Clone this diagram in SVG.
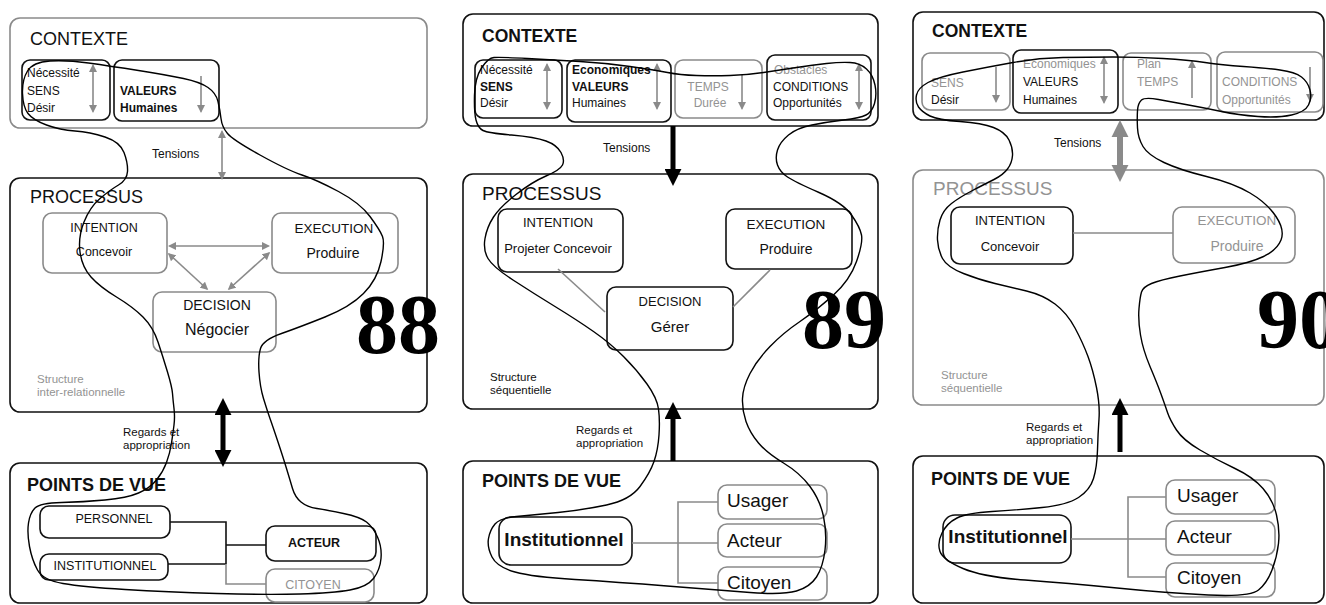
<svg xmlns="http://www.w3.org/2000/svg" width="1326" height="605" viewBox="0 0 1326 605">
<defs>
<style>
text{font-family:"Liberation Sans",Arial,sans-serif;fill:#111}
.bk{fill:#fff;stroke:#111;stroke-width:1.6}
.gy{fill:#fff;stroke:#8a8a8a;stroke-width:1.6}
.sb{fill:none;stroke:#111;stroke-width:1.6}
.sg{fill:none;stroke:#8a8a8a;stroke-width:1.6}
.loop{fill:none;stroke:#000;stroke-width:1.4;stroke-linejoin:round}
.ga{stroke:#8a8a8a;stroke-width:1.6;fill:none}
.gt{stroke:#8a8a8a;stroke-width:6;fill:none}
.ba{stroke:#000;stroke-width:5;fill:none}
.g{fill:#939393}
.b{font-weight:bold}
.m{text-anchor:middle}
.s11{font-size:11.5px}
.s12{font-size:12px}
.s13{font-size:13px}
.s14{font-size:14px}
.t18{font-size:18px}
.t19{font-size:19px}
.num{font-family:"Liberation Serif","Times New Roman",serif;font-weight:bold;font-size:84px;fill:#000}
</style>
<marker id="gs" viewBox="0 0 10 10" refX="8" refY="5" markerWidth="8" markerHeight="9" markerUnits="userSpaceOnUse" orient="auto-start-reverse"><path d="M0,0 L10,5 L0,10 z" fill="#8a8a8a"/></marker>
<marker id="bh" viewBox="0 0 10 10" refX="3" refY="5" markerWidth="17" markerHeight="17" markerUnits="userSpaceOnUse" orient="auto-start-reverse"><path d="M0,0 L10,5 L0,10 z" fill="#000"/></marker>
<marker id="gh" viewBox="0 0 10 10" refX="3" refY="5" markerWidth="17" markerHeight="18" markerUnits="userSpaceOnUse" orient="auto-start-reverse"><path d="M0,0 L10,5 L0,10 z" fill="#8a8a8a"/></marker>
</defs>
<rect width="1326" height="605" fill="#fff"/>

<!-- PANEL 88 -->
<g id="p1-contexte">
<rect class="gy" x="10" y="18" width="417" height="110" rx="10"/>
<text x="30" y="45" class="t18">CONTEXTE</text>
</g>
<g id="p1-sens">
<rect class="sb" x="22" y="60" width="88" height="60" rx="8"/>
<text x="27" y="77" class="s12">Nécessité</text>
<text x="27" y="95" class="s12">SENS</text>
<text x="27" y="112" class="s12">Désir</text>
</g>
<g id="p1-valeurs">
<rect class="sb" x="114" y="60" width="105" height="61" rx="8"/>
<text x="120" y="95" class="s12 b">VALEURS</text>
<text x="120" y="112" class="s12 b">Humaines</text>
</g>
<g id="p1-processus">
<rect class="bk" x="10" y="178" width="417" height="234" rx="10"/>
<text x="30" y="203" class="t18">PROCESSUS</text>
<text x="37" y="383" class="s11 g">Structure</text>
<text x="37" y="396" class="s11 g">inter-relationnelle</text>
<text x="356" y="353" class="num">88</text>
</g>
<g id="p1-intention">
<rect class="gy" x="43" y="213" width="124" height="60" rx="9"/>
<text x="104" y="232" class="m" font-size="12.5">INTENTION</text>
<text x="104" y="256" class="m" font-size="12.5">Concevoir</text>
</g>
<g id="p1-execution">
<rect class="gy" x="272" y="213" width="126" height="60" rx="9"/>
<text x="334" y="233" class="m" font-size="13.5">EXECUTION</text>
<text x="333" y="258" class="m s14">Produire</text>
</g>
<g id="p1-decision">
<rect class="gy" x="153" y="292" width="123" height="60" rx="9"/>
<text x="217" y="310" class="m s14">DECISION</text>
<text x="217" y="335" class="m" font-size="16">Négocier</text>
</g>
<g id="p1-pointsdevue">
<rect class="bk" x="10" y="463" width="417" height="140" rx="10"/>
<text x="27" y="491" class="t18 b">POINTS DE VUE</text>
</g>
<g id="p1-personnel">
<rect class="sb" x="40" y="506" width="130" height="32" rx="9"/>
<text x="114" y="523" class="m" font-size="12.5">PERSONNEL</text>
</g>
<g id="p1-institutionnel">
<rect class="sb" x="40" y="554" width="128" height="26" rx="9"/>
<text x="105" y="570" class="m" font-size="12.5">INSTITUTIONNEL</text>
</g>
<g id="p1-acteur">
<rect class="sb" x="266" y="526" width="110" height="35" rx="9"/>
<text x="314" y="547" class="m b" font-size="12.5">ACTEUR</text>
</g>
<g id="p1-citoyen">
<rect class="sg" x="266" y="569" width="108" height="33" rx="9"/>
<text x="313" y="589" class="m g" font-size="12.5">CITOYEN</text>
</g>
<g id="p1-labels">
<text x="152" y="158" class="s12">Tensions</text>
<text x="123" y="436" class="s11">Regards et</text>
<text x="123" y="449" class="s11">appropriation</text>
</g>

<!-- PANEL 89 -->
<g id="p2-contexte">
<rect class="bk" x="463" y="14" width="415" height="112" rx="10"/>
<text x="482" y="42" class="b" font-size="17.5">CONTEXTE</text>
</g>
<g id="p2-sens">
<rect class="sb" x="475" y="60" width="87" height="58" rx="8"/>
<text x="480" y="74" class="s12">Nécessité</text>
<text x="480" y="91" class="s12 b">SENS</text>
<text x="480" y="107" class="s12">Désir</text>
</g>
<g id="p2-valeurs">
<rect class="sb" x="567" y="60" width="104" height="62" rx="8"/>
<text x="572" y="74" class="s12 b">Economiques</text>
<text x="572" y="91" class="s12 b">VALEURS</text>
<text x="572" y="107" class="s12">Humaines</text>
</g>
<g id="p2-temps">
<rect class="sg" x="675" y="60" width="87" height="58" rx="8"/>
<text x="708" y="91" class="s12 g m">TEMPS</text>
<text x="710" y="107" class="s12 g m">Durée</text>
</g>
<g id="p2-conditions">
<rect class="sb" x="767" y="55" width="104" height="65" rx="8"/>
<text x="774" y="74" class="s12 g">Obstacles</text>
<text x="773" y="91" class="s12">CONDITIONS</text>
<text x="773" y="107" class="s12">Opportunités</text>
</g>
<g id="p2-processus">
<rect class="bk" x="463" y="174" width="415" height="235" rx="10"/>
<text x="482" y="200" class="t19">PROCESSUS</text>
<text x="490" y="381" class="s11">Structure</text>
<text x="490" y="394" class="s11">séquentielle</text>
<text x="802" y="348" class="num">89</text>
</g>
<g id="p2-intention">
<rect class="sb" x="498" y="209" width="125" height="63" rx="9"/>
<text x="558" y="227" class="m s13">INTENTION</text>
<text x="558" y="253" class="m s13">Projeter Concevoir</text>
</g>
<g id="p2-execution">
<rect class="sb" x="726" y="209" width="126" height="60" rx="9"/>
<text x="786" y="229" class="m" font-size="13.5">EXECUTION</text>
<text x="786" y="254" class="m s14">Produire</text>
</g>
<g id="p2-decision">
<rect class="sb" x="607" y="287" width="126" height="63" rx="9"/>
<text x="670" y="306" class="m s13">DECISION</text>
<text x="670" y="332" class="m" font-size="15">Gérer</text>
</g>
<g id="p2-pointsdevue">
<rect class="bk" x="463" y="461" width="415" height="142" rx="10"/>
<text x="482" y="487" class="t18 b">POINTS DE VUE</text>
</g>
<g id="p2-institutionnel">
<rect class="sb" x="499" y="517" width="133" height="48" rx="12"/>
<text x="564" y="546" class="m b" font-size="19">Institutionnel</text>
</g>
<g id="p2-usager">
<rect class="sg" x="718" y="485" width="109" height="34" rx="9"/>
<text x="727" y="507" class="t19">Usager</text>
</g>
<g id="p2-acteur">
<rect class="sg" x="718" y="524" width="109" height="33" rx="9"/>
<text x="727" y="547" class="t19">Acteur</text>
</g>
<g id="p2-citoyen">
<rect class="sg" x="718" y="567" width="109" height="33" rx="9"/>
<text x="727" y="589" class="t19">Citoyen</text>
</g>
<g id="p2-labels">
<text x="603" y="152" class="s12">Tensions</text>
<text x="576" y="434" class="s11">Regards et</text>
<text x="576" y="447" class="s11">appropriation</text>
</g>

<!-- PANEL 90 -->
<g id="p3-contexte">
<rect class="bk" x="913" y="12" width="411" height="108" rx="10"/>
<text x="932" y="37" class="b" font-size="17.5">CONTEXTE</text>
</g>
<g id="p3-sens">
<rect class="sg" x="922" y="53" width="88" height="57" rx="8"/>
<text x="931" y="87" class="s12 g">SENS</text>
<text x="931" y="104" class="s12">Désir</text>
</g>
<g id="p3-valeurs">
<rect class="sb" x="1013" y="50" width="105" height="63" rx="8"/>
<text x="1023" y="68" class="s12 g">Economiques</text>
<text x="1023" y="86" class="s12">VALEURS</text>
<text x="1023" y="104" class="s12">Humaines</text>
</g>
<g id="p3-temps">
<rect class="sg" x="1123" y="53" width="88" height="57" rx="8"/>
<text x="1137" y="68" class="s12 g">Plan</text>
<text x="1137" y="86" class="s12 g">TEMPS</text>
</g>
<g id="p3-conditions">
<rect class="sg" x="1217" y="52" width="106" height="60" rx="8"/>
<text x="1222" y="86" class="s12 g">CONDITIONS</text>
<text x="1222" y="104" class="s12 g">Opportunités</text>
</g>
<g id="p3-processus">
<rect class="gy" x="913" y="170" width="411" height="235" rx="10"/>
<text x="933" y="195" class="t19 g">PROCESSUS</text>
<text x="941" y="379" class="s11 g">Structure</text>
<text x="941" y="392" class="s11 g">séquentielle</text>
<text x="1257" y="348" class="num">90</text>
</g>
<g id="p3-intention">
<rect class="sb" x="951" y="207" width="122" height="57" rx="9"/>
<text x="1010" y="225" class="m s13">INTENTION</text>
<text x="1010" y="251" class="m s13">Concevoir</text>
</g>
<g id="p3-execution">
<rect class="sg" x="1173" y="207" width="122" height="56" rx="9"/>
<text x="1237" y="225" class="m g" font-size="13.5">EXECUTION</text>
<text x="1237" y="251" class="m g s14">Produire</text>
</g>
<g id="p3-pointsdevue">
<rect class="bk" x="913" y="456" width="411" height="147" rx="10"/>
<text x="931" y="485" class="t18 b">POINTS DE VUE</text>
</g>
<g id="p3-institutionnel">
<rect class="sb" x="943" y="515" width="128" height="48" rx="12"/>
<text x="1008" y="543" class="m b" font-size="19">Institutionnel</text>
</g>
<g id="p3-usager">
<rect class="sg" x="1166" y="480" width="109" height="34" rx="9"/>
<text x="1177" y="502" class="t19">Usager</text>
</g>
<g id="p3-acteur">
<rect class="sg" x="1166" y="521" width="109" height="34" rx="9"/>
<text x="1177" y="543" class="t19">Acteur</text>
</g>
<g id="p3-citoyen">
<rect class="sg" x="1166" y="563" width="109" height="34" rx="9"/>
<text x="1177" y="584" class="t19">Citoyen</text>
</g>
<g id="p3-labels">
<text x="1054" y="147" class="s12">Tensions</text>
<text x="1026" y="431" class="s11">Regards et</text>
<text x="1026" y="444" class="s11">appropriation</text>
</g>

<g id="connectors">
<!-- panel 1 -->
<line class="ga" x1="93" y1="65.6" x2="93" y2="111.4" marker-start="url(#gs)" marker-end="url(#gs)"/>
<line class="ga" x1="201" y1="76" x2="201" y2="111.4" marker-end="url(#gs)"/>
<line class="ga" x1="222" y1="131.6" x2="222" y2="178.4" marker-start="url(#gs)" marker-end="url(#gs)"/>
<line class="ga" x1="169.6" y1="246" x2="268.4" y2="246" marker-start="url(#gs)" marker-end="url(#gs)"/>
<line class="ga" x1="169" y1="254" x2="207" y2="289" marker-start="url(#gs)" marker-end="url(#gs)"/>
<line class="ga" x1="269" y1="253" x2="229" y2="289" marker-start="url(#gs)" marker-end="url(#gs)"/>
<line class="ba" x1="223" y1="410" x2="223" y2="455" marker-start="url(#bh)" marker-end="url(#bh)"/>
<polyline class="sb" points="170,522 226,522 226,564"/>
<line class="sb" x1="168" y1="564" x2="226" y2="564"/>
<line class="sb" x1="226" y1="545" x2="266" y2="545"/>
<polyline class="sg" points="226,564 226,584 266,584"/>
<!-- panel 2 -->
<line class="ga" x1="547" y1="64.6" x2="547" y2="108.4" marker-start="url(#gs)" marker-end="url(#gs)"/>
<line class="ga" x1="657" y1="64.6" x2="657" y2="108.4" marker-start="url(#gs)" marker-end="url(#gs)"/>
<line class="ga" x1="742" y1="75" x2="742" y2="108.4" marker-end="url(#gs)"/>
<line class="ga" x1="859" y1="64.6" x2="859" y2="108.4" marker-start="url(#gs)" marker-end="url(#gs)"/>
<line class="ba" x1="673" y1="126" x2="673" y2="174" marker-end="url(#bh)"/>
<line class="ga" x1="558" y1="269" x2="605" y2="312"/>
<line class="ga" x1="770" y1="270" x2="733" y2="307"/>
<line class="ba" x1="673" y1="461" x2="673" y2="414" marker-end="url(#bh)"/>
<line class="sg" x1="632" y1="543" x2="718" y2="543"/>
<polyline class="sg" points="718,502 678,502 678,583 718,583"/>
<!-- panel 3 -->
<line class="ga" x1="996" y1="67" x2="996" y2="101.4" marker-end="url(#gs)"/>
<line class="ga" x1="1104" y1="57.6" x2="1104" y2="102.4" marker-start="url(#gs)" marker-end="url(#gs)"/>
<line class="ga" x1="1192" y1="98" x2="1192" y2="61.6" marker-end="url(#gs)"/>
<line class="ga" x1="1310" y1="67" x2="1310" y2="100.4" marker-end="url(#gs)"/>
<line class="gt" x1="1120" y1="132" x2="1120" y2="170" marker-start="url(#gh)" marker-end="url(#gh)"/>
<line class="ga" x1="1073" y1="233" x2="1173" y2="233"/>
<line class="ba" x1="1120" y1="452" x2="1120" y2="410" marker-end="url(#bh)"/>
<line class="sg" x1="1071" y1="539" x2="1166" y2="539"/>
<polyline class="sg" points="1166,497 1128,497 1128,577 1166,577"/>
</g>

<g id="loops">
<path class="loop" d="M27.5,71 Q33,62 50,61 Q67,60 88.5,63 Q110,66 138.5,70.5 Q167,75 183.5,78.5 Q200,82 208,87.5 Q216,93 218,101.5 Q220,110 221,118.5 Q222,127 227.5,133.5 Q233,140 260,155 Q287,170 302,175 Q317,180 338.5,191.5 Q360,203 370,216.5 Q380,230 382.5,236.5 Q385,243 381,261.5 Q377,280 363.5,293.5 Q350,307 325,317 Q300,327 281.5,333.5 Q263,340 260.5,348.5 Q258,357 259,372 Q260,387 263.5,398.5 Q267,410 270,418.5 Q273,427 278,442 Q283,457 286.5,468.5 Q290,480 292.5,488.5 Q295,497 301,502 Q307,507 317,508.5 Q327,510 343.5,513.5 Q360,517 366.5,522 Q373,527 377.5,537 Q382,547 381,558.5 Q380,570 373.5,578.5 Q367,587 350,590 Q333,593 300,594 Q267,595 217,593.5 Q167,592 125,589.5 Q83,587 63,583.5 Q43,580 37.5,570 Q32,560 29.5,546.5 Q27,533 28.5,523 Q30,513 35,508 Q40,503 61.5,502.5 Q83,502 105,500 Q127,498 138.5,493 Q150,488 156.5,480 Q163,472 166.5,462.5 Q170,453 171.5,443 Q173,433 174,425 Q175,417 174,408.5 Q173,400 172.5,393.5 Q172,387 167.5,372 Q163,357 158,342 Q153,327 143,317 Q133,307 116.5,297 Q100,287 91,277 Q82,267 80,252 Q78,237 84,222 Q90,207 100,198.5 Q110,190 118.5,185 Q127,180 127.5,171.5 Q128,163 124,152.5 Q120,142 105,137 Q90,132 75,131 Q60,130 46.5,125 Q33,120 28,113.5 Q23,107 22.5,93.5 Q22,80 27.5,71 Z"/>
<path class="loop" d="M481.5,68 Q488,58 494,57.5 Q500,57 527.5,58.5 Q555,60 580,61.5 Q605,63 630,66.5 Q655,70 667.5,72.5 Q680,75 696.5,75.5 Q713,76 730,75.5 Q747,75 763.5,72.5 Q780,70 796.5,67.5 Q813,65 826.5,63.5 Q840,62 850,62.5 Q860,63 866.5,69 Q873,75 875,85 Q877,95 874.5,103.5 Q872,112 866,115 Q860,118 843.5,120 Q827,122 812,125 Q797,128 788.5,135 Q780,142 777.5,150 Q775,158 777.5,165 Q780,172 787.5,177 Q795,182 819,192.5 Q843,203 851.5,215 Q860,227 861.5,235 Q863,243 856.5,261.5 Q850,280 833.5,295 Q817,310 800,321.5 Q783,333 770,346.5 Q757,360 750,373.5 Q743,387 742.5,398.5 Q742,410 746,421.5 Q750,433 758.5,443 Q767,453 783.5,463 Q800,473 810,486.5 Q820,500 823.5,516.5 Q827,533 825,550 Q823,567 816.5,577 Q810,587 796.5,591 Q783,595 750,592.5 Q717,590 667,586 Q617,582 575,579.5 Q533,577 515,572 Q497,567 492,557 Q487,547 488.5,538.5 Q490,530 495,524 Q500,518 516.5,516.5 Q533,515 558,512.5 Q583,510 606.5,505 Q630,500 640,486.5 Q650,473 654,461.5 Q658,450 659,435 Q660,420 658.5,409 Q657,398 647,384 Q637,370 623.5,356.5 Q610,343 593.5,331.5 Q577,320 555,306.5 Q533,293 513,280 Q493,267 488,258.5 Q483,250 485,238.5 Q487,227 493.5,217 Q500,207 516,194.5 Q532,182 546,176 Q560,170 562.5,165 Q565,160 561,152.5 Q557,145 546,141 Q535,137 511.5,135 Q488,133 483,130.5 Q478,128 476,120 Q474,112 474.5,95 Q475,78 481.5,68 Z"/>
<path class="loop" d="M916.5,95 Q918,88 928,82.5 Q938,77 963,72 Q988,67 1013,62.5 Q1038,58 1063,57.5 Q1088,57 1113,57 Q1138,57 1163,58.5 Q1188,60 1205,62.5 Q1222,65 1243.5,66.5 Q1265,68 1280,70 Q1295,72 1301.5,77 Q1308,82 1310,90 Q1312,98 1308.5,105 Q1305,112 1291.5,115 Q1278,118 1258,116.5 Q1238,115 1221.5,111.5 Q1205,108 1188.5,105 Q1172,102 1158.5,99.5 Q1145,97 1141.5,100 Q1138,103 1137.5,110.5 Q1137,118 1137.5,128 Q1138,138 1143,146.5 Q1148,155 1164,162.5 Q1180,170 1206.5,176.5 Q1233,183 1250,193 Q1267,203 1276,216.5 Q1285,230 1281,240 Q1277,250 1263.5,256.5 Q1250,263 1225,267.5 Q1200,272 1180,276 Q1160,280 1151.5,283.5 Q1143,287 1141.5,292 Q1140,297 1139,308.5 Q1138,320 1140.5,335 Q1143,350 1150,366.5 Q1157,383 1161,394 Q1165,405 1167.5,412.5 Q1170,420 1176.5,430 Q1183,440 1200,450 Q1217,460 1235,468.5 Q1253,477 1263,488.5 Q1273,500 1276.5,515 Q1280,530 1278.5,543.5 Q1277,557 1272,570 Q1267,583 1258.5,590 Q1250,597 1208.5,595 Q1167,593 1117,588 Q1067,583 1025,580 Q983,577 963,568.5 Q943,560 940,551.5 Q937,543 942,533 Q947,523 957,518 Q967,513 992,511.5 Q1017,510 1042,507.5 Q1067,505 1078.5,497.5 Q1090,490 1093.5,478.5 Q1097,467 1097.5,450 Q1098,433 1099,419 Q1100,405 1096.5,387.5 Q1093,370 1088,356.5 Q1083,343 1075,328 Q1067,313 1055,304 Q1043,295 1026.5,291 Q1010,287 995,283.5 Q980,280 963.5,273.5 Q947,267 942.5,258.5 Q938,250 937.5,240 Q937,230 940,220 Q943,210 951.5,203.5 Q960,197 972.5,190.5 Q985,184 994,179.5 Q1003,175 1007.5,169 Q1012,163 1012.5,155.5 Q1013,148 1009,140 Q1005,132 993.5,127.5 Q982,123 960,121.5 Q938,120 930,116 Q922,112 918.5,107 Q915,102 916.5,95 Z"/>
</g>
</svg>
